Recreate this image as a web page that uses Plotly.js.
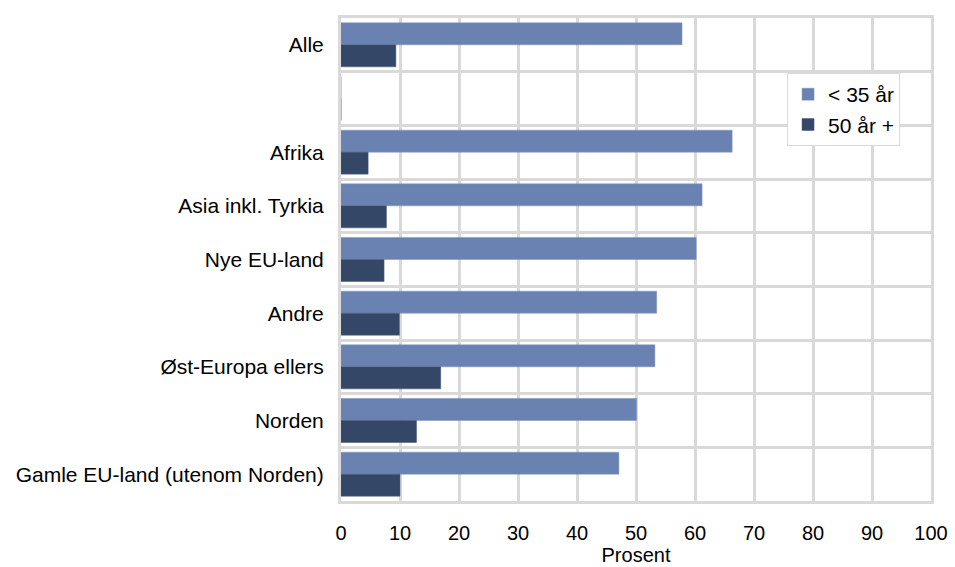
<!DOCTYPE html>
<html>
<head>
<meta charset="utf-8">
<script src="https://cdn.plot.ly/plotly-3.0.1.min.js"></script>
<style>html,body{margin:0;padding:0;background:#fff;}#chart{width:955px;height:567px;}</style>
</head>
<body>
<div id="chart"></div>
<script>
const categories = ["Alle", " ", "Afrika", "Asia inkl. Tyrkia", "Nye EU-land", "Andre", "Øst-Europa ellers", "Norden", "Gamle EU-land (utenom Norden)"];
const under35 = [57.8, 0, 66.3, 61.2, 60.2, 53.5, 53.2, 50.1, 47.1];
const over50 = [9.3, 0, 4.6, 7.7, 7.3, 9.9, 16.9, 12.8, 10.0];
const seriesNames = ["< 35 år", "50 år +"];
const xTicks = [0, 10, 20, 30, 40, 50, 60, 70, 80, 90, 100];

const font = {family: "Liberation Sans, Arial, sans-serif", size: 21, color: "#000"};
const xfont = {family: "Liberation Sans, Arial, sans-serif", size: 20, color: "#000"};
const data = [
  {type: "bar", orientation: "h", name: seriesNames[0], y: categories, x: under35,
   marker: {color: "#6a82b1", line: {color: "#7d93bd", width: 0.5}}},
  {type: "bar", orientation: "h", name: seriesNames[1], y: categories, x: over50,
   marker: {color: "#344767", line: {color: "#46597a", width: 0.5}}}
];
const layout = {
  width: 955, height: 567,
  margin: {l: 341, r: 24, t: 18, b: 66},
  paper_bgcolor: "#fff", plot_bgcolor: "#fff",
  font: font,
  barmode: "group", bargap: 0.18, bargroupgap: 0,
  showlegend: true,
  legend: {x: 0.756, y: 0.886, xanchor: "left", yanchor: "top",
           bgcolor: "#fff", bordercolor: "#d9d9d9", borderwidth: 1,
           font: font, traceorder: "normal", itemwidth: 30},
  xaxis: {range: [0, 100], tickvals: xTicks, ticktext: xTicks.map(String),
          showgrid: true, gridcolor: "#d9d9d9", gridwidth: 3,
          zeroline: false, showline: true, mirror: true, linecolor: "#d9d9d9", linewidth: 3,
          ticks: "", ticklabelstandoff: 12, tickfont: xfont,
          title: {text: "Prosent", font: xfont, standoff: 2}},
  yaxis: {type: "category", categoryorder: "array", categoryarray: categories,
          autorange: "reversed", tickson: "boundaries",
          showgrid: true, gridcolor: "#d9d9d9", gridwidth: 3,
          showline: true, mirror: true, linecolor: "#d9d9d9", linewidth: 3,
          ticks: "", ticklabelstandoff: 10, tickfont: font}
};
Plotly.newPlot("chart", data, layout, {displayModeBar: false, staticPlot: true});
</script>
</body>
</html>
